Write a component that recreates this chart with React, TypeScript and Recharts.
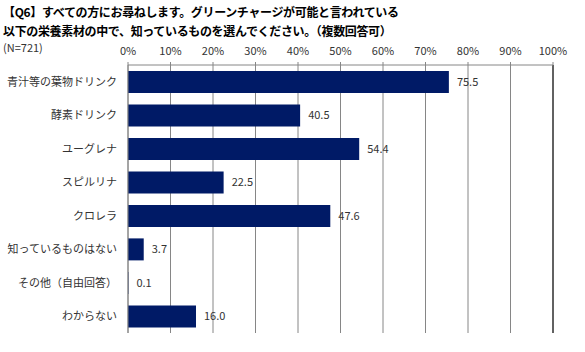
import React from "react";
import {
  BarChart,
  Bar,
  XAxis,
  YAxis,
  CartesianGrid,
  ReferenceLine,
  LabelList,
} from "recharts";

const titleLines = [
  "【Q6】すべての方にお尋ねします。グリーンチャージが可能と言われている",
  "以下の栄養素材の中で、知っているものを選んでください。（複数回答可）",
];
const sampleNote = "(N=721)";
const categories = [
  "青汁等の葉物ドリンク",
  "酵素ドリンク",
  "ユーグレナ",
  "スピルリナ",
  "クロレラ",
  "知っているものはない",
  "その他（自由回答）",
  "わからない",
];
const values = [75.5, 40.5, 54.4, 22.5, 47.6, 3.7, 0.1, 16.0];
const xTicks = [0, 10, 20, 30, 40, 50, 60, 70, 80, 90, 100];
const boundaryTicks = [0, 1, 2, 3, 4, 5, 6, 7, 8];

const data = categories.map((name, i) => ({ name, value: values[i] }));

const FONT = '"Noto Sans CJK JP", "Noto Sans", sans-serif';

export default function App() {
  return (
    <div style={{ position: "absolute", left: 0, top: 0, width: 585, height: 352, background: "#fff", fontFamily: FONT }}>
      <div style={{ position: "absolute", left: 3, top: 2, fontSize: 12, fontWeight: 700, lineHeight: "19px", color: "#000", whiteSpace: "nowrap", letterSpacing: -0.35 }}>
        <div>{titleLines[0]}</div>
        <div>{titleLines[1]}</div>
      </div>
      <div style={{ position: "absolute", left: 3, top: 39, fontSize: 11, color: "#333", whiteSpace: "nowrap" }}>{sampleNote}</div>
      <div style={{ position: "absolute", left: 0, top: 0 }}>
        <BarChart
          width={585}
          height={352}
          data={data}
          layout="vertical"
          margin={{ top: 45, right: 32, bottom: 19, left: 0 }}
          barCategoryGap="17.6%"
        >
          <CartesianGrid yAxisId="cat" horizontal={false} vertical={true} stroke="#868686" strokeWidth={1} />
          <XAxis
            type="number"
            orientation="top"
            domain={[0, 100]}
            ticks={xTicks}
            interval={0}
            tickFormatter={(v: number) => `${v}%`}
            height={20}
            tickSize={3}
            tickMargin={7}
            axisLine={{ stroke: "#868686" }}
            tickLine={{ stroke: "#868686" }}
            tick={{ fontSize: 11, fill: "#333", fontFamily: FONT }}
          />
          <XAxis
            xAxisId="bottom"
            type="number"
            orientation="bottom"
            domain={[0, 100]}
            ticks={xTicks}
            height={0}
            tick={false}
            tickLine={false}
            axisLine={{ stroke: "#000" }}
          />
          <YAxis
            yAxisId="cat"
            type="category"
            dataKey="name"
            width={127}
            axisLine={false}
            tickLine={false}
            tickSize={6}
            tickMargin={4}
            interval={0}
            tick={{ fontSize: 11, fill: "#333", fontFamily: FONT }}
          />
          <YAxis
            yAxisId="bounds"
            type="number"
            domain={[0, 8]}
            ticks={boundaryTicks}
            interval={0}
            width={1}
            tick={false}
            tickSize={5}
            axisLine={{ stroke: "#868686" }}
            tickLine={{ stroke: "#868686" }}
          />
          <ReferenceLine yAxisId="cat" x={100} stroke="#000" strokeWidth={1} />
          <Bar yAxisId="cat" dataKey="value" fill="#001A66" isAnimationActive={false}>
            <LabelList
              dataKey="value"
              position="right"
              offset={8}
              formatter={(v: number) => Number(v).toFixed(1)}
              style={{ fontSize: 11, fill: "#333", fontFamily: FONT }}
            />
          </Bar>
        </BarChart>
      </div>
    </div>
  );
}
